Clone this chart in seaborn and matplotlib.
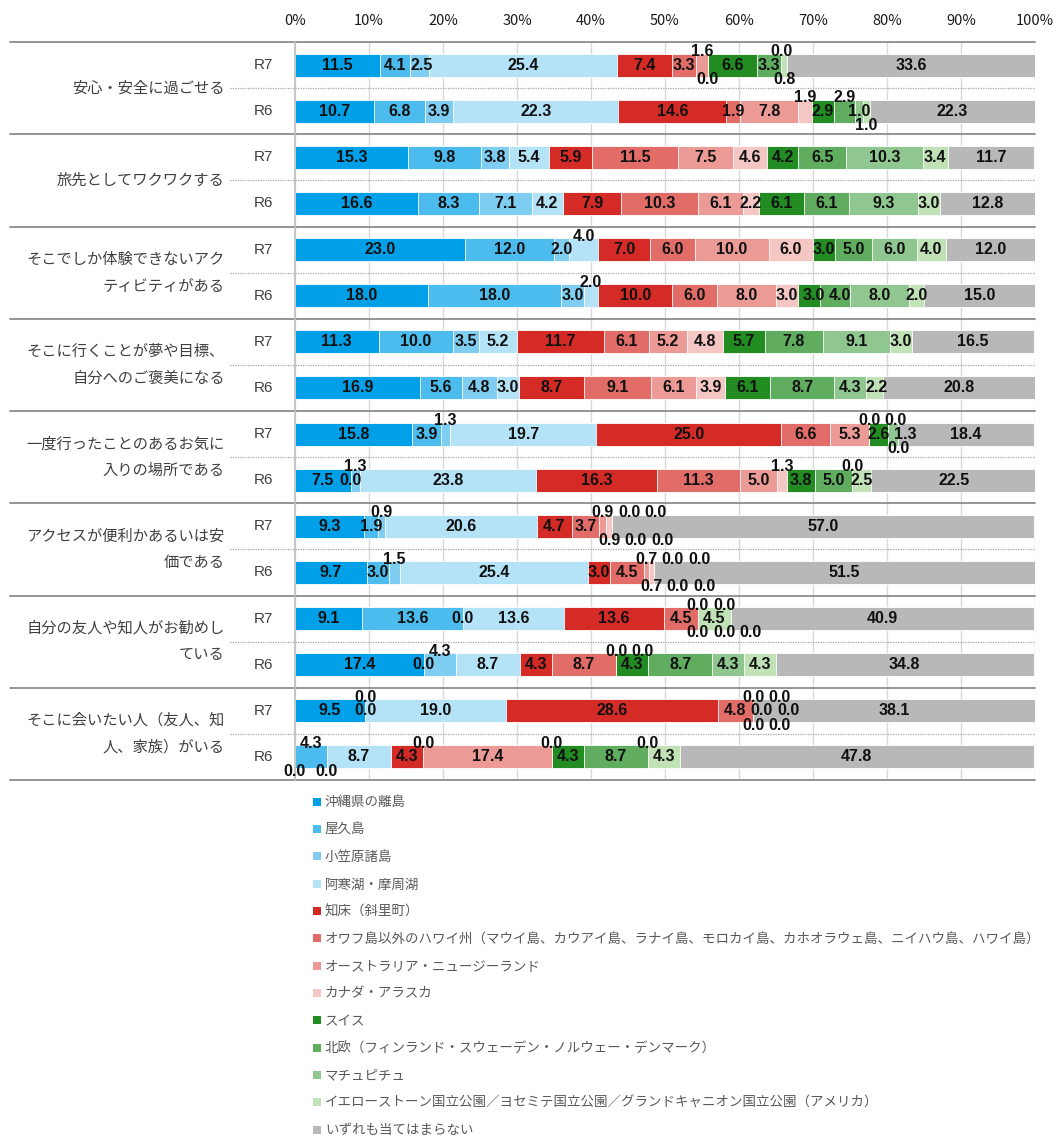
import matplotlib
matplotlib.use('Agg')
import matplotlib.pyplot as plt
from matplotlib.patches import Patch
import numpy as np
import pandas as pd
import seaborn as sns

# destinations (stack order, left to right)
SERIES = ['沖縄県の離島', '屋久島', '小笠原諸島', '阿寒湖・摩周湖', '知床（斜里町）',
          'オワフ島以外のハワイ州（マウイ島、カウアイ島、ラナイ島、モロカイ島、カホオラウェ島、ニイハウ島、ハワイ島）',
          'オーストラリア・ニュージーランド', 'カナダ・アラスカ', 'スイス',
          '北欧（フィンランド・スウェーデン・ノルウェー・デンマーク）', 'マチュピチュ',
          'イエローストーン国立公園／ヨセミテ国立公園／グランドキャニオン国立公園（アメリカ）',
          'いずれも当てはまらない']
COLORS = ['#00A0E9', '#4CBCEE', '#80CDF2', '#B4E3F8', '#D42B26', '#E26C68', '#EB9A96',
          '#F4C6C4', '#228B22', '#60AD60', '#90C790', '#C1E1B6', '#B8B8B8']

QUESTIONS = ['安心・安全に過ごせる', '旅先としてワクワクする',
             'そこでしか体験できないアク\nティビティがある', 'そこに行くことが夢や目標、\n自分へのご褒美になる',
             '一度行ったことのあるお気に\n入りの場所である', 'アクセスが便利かあるいは安\n価である',
             '自分の友人や知人がお勧めし\nている', 'そこに会いたい人（友人、知\n人、家族）がいる']
YEARS = ['R7', 'R6']

VALUES_R7 = [
    [11.5, 4.1, 2.5, 25.4, 7.4, 3.3, 1.6, 0.0, 6.6, 3.3, 0.0, 0.8, 33.6],
    [15.3, 9.8, 3.8, 5.4, 5.9, 11.5, 7.5, 4.6, 4.2, 6.5, 10.3, 3.4, 11.7],
    [23.0, 12.0, 2.0, 4.0, 7.0, 6.0, 10.0, 6.0, 3.0, 5.0, 6.0, 4.0, 12.0],
    [11.3, 10.0, 3.5, 5.2, 11.7, 6.1, 5.2, 4.8, 5.7, 7.8, 9.1, 3.0, 16.5],
    [15.8, 3.9, 1.3, 19.7, 25.0, 6.6, 5.3, 0.0, 2.6, 0.0, 1.3, 0.0, 18.4],
    [9.3, 1.9, 0.9, 20.6, 4.7, 3.7, 0.9, 0.9, 0.0, 0.0, 0.0, 0.0, 57.0],
    [9.1, 13.6, 0.0, 13.6, 13.6, 4.5, 0.0, 0.0, 0.0, 0.0, 0.0, 4.5, 40.9],
    [9.5, 0.0, 0.0, 19.0, 28.6, 4.8, 0.0, 0.0, 0.0, 0.0, 0.0, 0.0, 38.1],
]
VALUES_R6 = [
    [10.7, 6.8, 3.9, 22.3, 14.6, 1.9, 7.8, 1.9, 2.9, 2.9, 1.0, 1.0, 22.3],
    [16.6, 8.3, 7.1, 4.2, 7.9, 10.3, 6.1, 2.2, 6.1, 6.1, 9.3, 3.0, 12.8],
    [18.0, 18.0, 3.0, 2.0, 10.0, 6.0, 8.0, 3.0, 3.0, 4.0, 8.0, 2.0, 15.0],
    [16.9, 5.6, 4.8, 3.0, 8.7, 9.1, 6.1, 3.9, 6.1, 8.7, 4.3, 2.2, 20.8],
    [7.5, 0.0, 1.3, 23.8, 16.3, 11.3, 5.0, 1.3, 3.8, 5.0, 0.0, 2.5, 22.5],
    [9.7, 3.0, 1.5, 25.4, 3.0, 4.5, 0.7, 0.7, 0.0, 0.0, 0.0, 0.0, 51.5],
    [17.4, 0.0, 4.3, 8.7, 4.3, 8.7, 0.0, 0.0, 4.3, 8.7, 4.3, 4.3, 34.8],
    [0.0, 4.3, 0.0, 8.7, 4.3, 0.0, 17.4, 0.0, 4.3, 8.7, 0.0, 4.3, 47.8],
]

# where each value label sits: i = inside, a = above bar, b = below bar
LABEL_SIDE_R7 = ['iiiiiiabiiabi', 'iiiiiiiiiiiii', 'iiiaiiiiiiiii', 'iiiiiiiiiiiii',
                 'iiaiiiiaiaibi', 'iiaiiiabababi', 'iiiiiiabbabii', 'iaiiiiaibaibi']
LABEL_SIDE_R6 = ['iiiiiiiaiaibi', 'iiiiiiiiiiiii', 'iiiaiiiiiiiii', 'iiiiiiiiiiiii',
                 'iiaiiiiaiiaii', 'iiaiiiabababi', 'iiaiiiaaiiiii', 'babiiaiaiiaii']

sns.set_theme(style='white')
plt.rcParams['font.family'] = ['Noto Sans CJK JP', 'DejaVu Sans']

rows, sides, row_ids = [], [], []
for q in range(len(QUESTIONS)):
    for y, vals, side in ((0, VALUES_R7, LABEL_SIDE_R7), (1, VALUES_R6, LABEL_SIDE_R6)):
        rows.append(vals[q])
        sides.append(side[q])
        row_ids.append(f'{q}{YEARS[y]}')

records = []
for rid, vals in zip(row_ids, rows):
    cum = np.cumsum(vals)
    for s, (v, c) in enumerate(zip(vals, cum)):
        records.append({'row': rid, 'series': s, 'value': v, 'cum': c})
df = pd.DataFrame(records)

fig = plt.figure(figsize=(10.57, 11.36), dpi=100)
ax = fig.add_axes([295 / 1057, 1 - 780 / 1136, 740 / 1057, 738 / 1136])

# stacked bars: draw cumulative totals from the last series down to the first
for s in reversed(range(len(SERIES))):
    sub = df[df['series'] == s]
    sns.barplot(data=sub, x='cum', y='row', order=row_ids, orient='h', color=COLORS[s],
                saturation=1, width=0.5, errorbar=None, edgecolor='white', linewidth=0.6, ax=ax)

ax.set_xlim(0, 100)
ax.set_ylim(len(row_ids) - 0.5, -0.5)
ax.set_xlabel('')
ax.set_ylabel('')
ax.set_yticks([])
ax.xaxis.tick_top()
ax.set_xticks(range(0, 101, 10))
ax.set_xticklabels([f'{t}%' for t in range(0, 101, 10)], fontsize=10.5, color='#1A1A1A')
ax.tick_params(axis='x', length=0, pad=10)
ax.grid(axis='x', color='#D9D9D9', linewidth=1)
ax.set_axisbelow(True)
for side in ['top', 'right', 'bottom']:
    ax.spines[side].set_visible(False)
ax.spines['left'].set_color('#BFBFBF')
ax.spines['left'].set_linewidth(1.2)

# value labels
GAP = 3.6
num_font = dict(family=['Liberation Sans Narrow', 'Liberation Sans'], fontsize=11.5,
                fontweight='bold', color='#111111', ha='center', va='center')
for r, (vals, side) in enumerate(zip(rows, sides)):
    starts = np.concatenate([[0], np.cumsum(vals)[:-1]])
    levels = {}
    for s, v in enumerate(vals):
        levels.setdefault(side[s], []).append([starts[s] + v / 2, v])
    for lev, items in levels.items():
        for k in range(1, len(items)):
            items[k][0] = max(items[k][0], items[k - 1][0] + GAP)
        dy = {'i': 0.0, 'a': -0.29, 'b': 0.31}[lev]
        for c, v in items:
            ax.text(c, r + dy, f'{v:.1f}', **num_font)

# row / question labels and separators
sep_kw = dict(transform=ax.get_yaxis_transform(), clip_on=False)
for q, text in enumerate(QUESTIONS):
    top = 2 * q - 0.5
    ax.plot([-0.385, 1], [top, top], color='#8C8C8C', linewidth=1.3, **sep_kw)
    ax.plot([-0.088, 1], [top + 1, top + 1], color='#A6A6A6', linewidth=0.9,
            linestyle=(0, (1, 1)), **sep_kw)
    ax.text(-0.095, top + 1, text, transform=ax.get_yaxis_transform(), ha='right', va='center',
            multialignment='right', fontsize=11, color='#404040', linespacing=1.75)
    for k, yr in enumerate(YEARS):
        ax.text(-0.03, 2 * q + k, yr, transform=ax.get_yaxis_transform(), ha='right',
                va='center', fontsize=11, color='#404040',
                family=['Liberation Sans', 'DejaVu Sans'])
bottom = 2 * len(QUESTIONS) - 0.5
ax.plot([-0.385, 1], [bottom, bottom], color='#8C8C8C', linewidth=1.3, **sep_kw)

handles = [Patch(facecolor=c, edgecolor='none') for c in COLORS]
fig.legend(handles, SERIES, loc='upper left', bbox_to_anchor=(308 / 1057, 1 - 790 / 1136),
           frameon=False, fontsize=9.7, labelcolor='#595959', handlelength=0.55,
           handleheight=0.55, handletextpad=0.3, labelspacing=0.99, borderaxespad=0)

fig.savefig('out.png', dpi=100)
